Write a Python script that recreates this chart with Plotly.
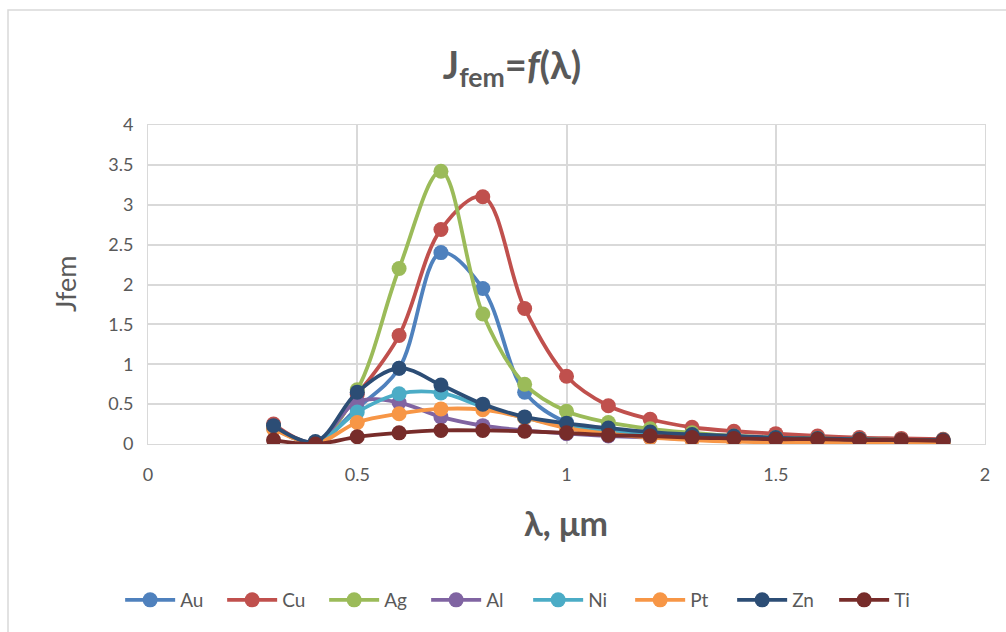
import plotly.graph_objects as go

lam = [0.3, 0.4, 0.5, 0.6, 0.7, 0.8, 0.9, 1.0, 1.1, 1.2, 1.3, 1.4, 1.5, 1.6, 1.7, 1.8, 1.9]

Au = [0.22, 0.02, 0.45, 0.95, 2.40, 1.95, 0.65, 0.27, 0.15, 0.09, 0.06, 0.04, 0.03, 0.02, 0.02, 0.01, 0.01]
Cu = [0.25, 0.02, 0.62, 1.36, 2.69, 3.10, 1.70, 0.85, 0.48, 0.31, 0.21, 0.16, 0.13, 0.10, 0.08, 0.07, 0.06]
Ag = [0.22, 0.02, 0.68, 2.20, 3.42, 1.63, 0.75, 0.41, 0.27, 0.19, 0.14, 0.10, 0.08, 0.07, 0.06, 0.05, 0.05]
Al = [0.21, 0.02, 0.53, 0.52, 0.34, 0.23, 0.17, 0.13, 0.10, 0.08, 0.06, 0.05, 0.05, 0.04, 0.04, 0.04, 0.04]
Ni = [0.20, 0.02, 0.40, 0.63, 0.64, 0.47, 0.33, 0.22, 0.16, 0.12, 0.09, 0.07, 0.06, 0.05, 0.05, 0.04, 0.04]
Pt = [0.19, 0.01, 0.27, 0.38, 0.44, 0.43, 0.33, 0.20, 0.13, 0.08, 0.05, 0.03, 0.02, 0.02, 0.01, 0.01, 0.01]
Zn = [0.23, 0.03, 0.65, 0.95, 0.74, 0.50, 0.34, 0.26, 0.20, 0.15, 0.12, 0.10, 0.08, 0.07, 0.06, 0.05, 0.05]
Ti = [0.05, 0.00, 0.09, 0.14, 0.17, 0.17, 0.16, 0.14, 0.11, 0.10, 0.08, 0.07, 0.06, 0.06, 0.05, 0.05, 0.04]

names = ["Au", "Cu", "Ag", "Al", "Ni", "Pt", "Zn", "Ti"]
series = [Au, Cu, Ag, Al, Ni, Pt, Zn, Ti]
colors = ["#4F81BD", "#C0504D", "#9BBB59", "#8064A2", "#4BACC6", "#F79646", "#2C4D75", "#772C2A"]

FONT = "Lato"
GRID = "#d9d9d9"
TXT = "#595959"

fig = go.Figure()
for n, s, c in zip(names, series, colors):
    fig.add_trace(go.Scatter(
        x=lam, y=s, name=n, mode="lines+markers",
        line=dict(color=c, width=3.8, shape="spline", smoothing=1),
        marker=dict(color=c, size=15),
    ))

fig.update_layout(
    width=1006, height=632,
    margin=dict(l=148, r=21, t=125, b=188),
    paper_bgcolor="white", plot_bgcolor="white",
    font=dict(family=FONT, color=TXT, size=18),
    title=dict(text="<b>J<sub>fem</sub>=<i>f</i>(λ)</b>", xref="container", x=0.509,
               y=1 - 66 / 632, yref="container", xanchor="center", yanchor="middle",
               font=dict(family=FONT, size=38, color=TXT)),
    showlegend=True,
    legend=dict(orientation="h", xref="container", yref="container", x=0.525, y=1 - 600 / 632,
                xanchor="center", yanchor="middle", font=dict(size=19, color=TXT),
                itemwidth=50, entrywidth=37, entrywidthmode="pixels", tracegroupgap=0),
    xaxis=dict(range=[0, 2], dtick=0.5, showgrid=True, gridcolor=GRID, gridwidth=1.5,
               zeroline=False, showline=True, linecolor=GRID, mirror=True,
               ticks="", ticklabelstandoff=14, tickfont=dict(size=18, color=TXT)),
    yaxis=dict(range=[0, 4], dtick=0.5, showgrid=True, gridcolor=GRID, gridwidth=1.5,
               zeroline=False, showline=True, linecolor=GRID, mirror=True,
               ticks="", ticklabelstandoff=10, tickfont=dict(size=18, color=TXT)),
    annotations=[
        dict(text="Jfem", xref="paper", yref="paper", x=(65 - 148) / 837, y=(444 - 284) / 319,
             showarrow=False, textangle=-90, font=dict(size=27, color=TXT),
             xanchor="center", yanchor="middle"),
        dict(text="<b>λ, μm</b>", xref="paper", yref="paper", x=(566 - 148) / 837,
             y=(444 - 522) / 319, showarrow=False, font=dict(size=34, color=TXT),
             xanchor="center", yanchor="middle"),
    ],
    shapes=[
        dict(type="rect", xref="paper", yref="paper", x0=(8 - 148) / 837, x1=(1010 - 148) / 837,
             y0=(444 - 640) / 319, y1=(444 - 10) / 319, line=dict(color=GRID, width=1.5),
             fillcolor="rgba(0,0,0,0)", layer="below"),
    ],
)

fig.write_html("out.html")
